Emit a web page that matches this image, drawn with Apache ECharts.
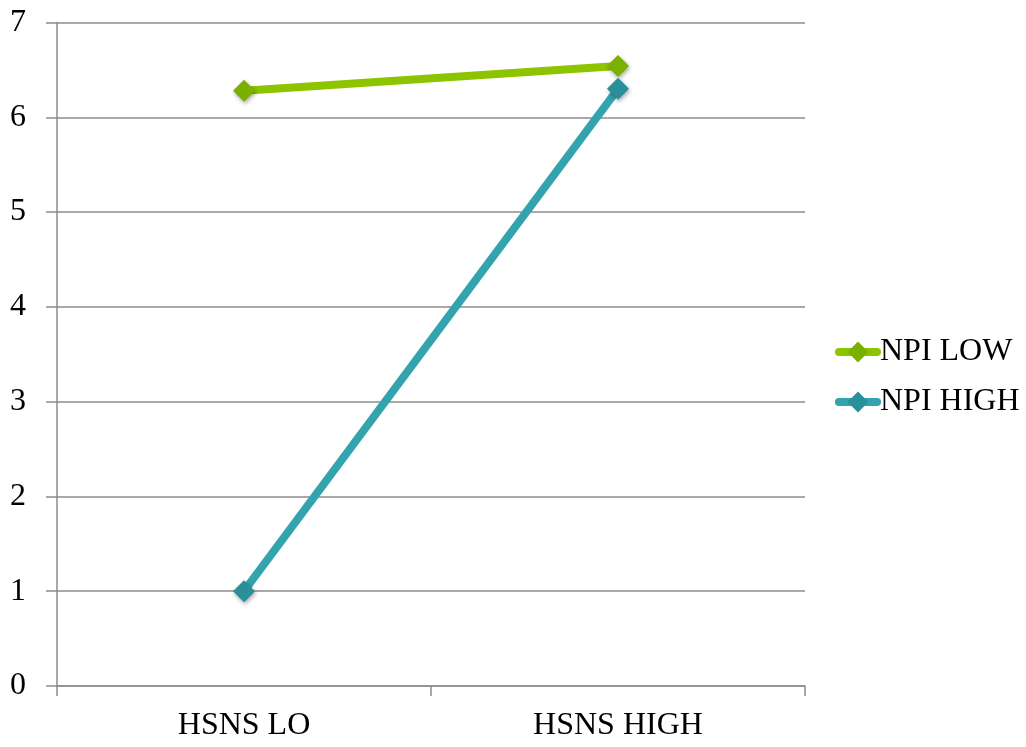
<!DOCTYPE html>
<html><head><meta charset="utf-8">
<script src="https://cdn.jsdelivr.net/npm/echarts@6/dist/echarts.min.js"></script>
<style>html,body{margin:0;padding:0;background:#fff}#c{width:1026px;height:747px}</style>
</head><body><div id="c"></div>
<script>
const categories = ['HSNS LO', 'HSNS HIGH'];
const npiLow = [6.28, 6.54];
const npiHigh = [1.0, 6.30];
const seriesNames = ['NPI LOW', 'NPI HIGH'];
const yTicks = [0, 1, 2, 3, 4, 5, 6, 7];

const font = 'Liberation Serif';
const chart = echarts.init(document.getElementById('c'), null, {renderer: 'canvas'});
chart.setOption({
  animation: false,
  backgroundColor: '#fff',
  grid: {left: 57, right: 221, top: 22.5, bottom: 61},
  legend: {
    orient: 'vertical', left: 830, top: 331, itemGap: 18,
    itemWidth: 38, itemHeight: 26,
    lineStyle: {width: 8, cap: 'round'},
    textStyle: {fontFamily: font, fontSize: 32, color: '#000', padding: [0, 0, 0, -2]},
    data: seriesNames
  },
  xAxis: {
    type: 'category', data: categories, boundaryGap: true,
    axisLine: {lineStyle: {color: '#8c8c8c', width: 1.5}},
    axisTick: {show: true, length: 10, lineStyle: {color: '#8c8c8c', width: 1.5}},
    axisLabel: {fontFamily: font, fontSize: 32, color: '#000', margin: 24}
  },
  yAxis: {
    type: 'value', min: yTicks[0], max: yTicks[yTicks.length - 1], interval: 1,
    axisLine: {show: true, lineStyle: {color: '#8c8c8c', width: 1.5}},
    axisTick: {show: true, length: 11, lineStyle: {color: '#8c8c8c', width: 1.5}},
    splitLine: {lineStyle: {color: '#8c8c8c', width: 1.5}},
    axisLabel: {fontFamily: font, fontSize: 32, color: '#000', margin: 31}
  },
  series: [
    {name: seriesNames[0], type: 'line', data: npiLow, symbol: 'diamond', symbolSize: 22,
     color: '#8cc400',
     lineStyle: {width: 8, color: '#8cc400'},
     itemStyle: {color: '#7ab000', shadowColor: 'rgba(0,0,0,0.35)', shadowBlur: 4, shadowOffsetX: 1, shadowOffsetY: 2}},
    {name: seriesNames[1], type: 'line', data: npiHigh, symbol: 'diamond', symbolSize: 22,
     color: '#33a3ae',
     lineStyle: {width: 8, color: '#33a3ae'},
     itemStyle: {color: '#2a8f9a', shadowColor: 'rgba(0,0,0,0.35)', shadowBlur: 4, shadowOffsetX: 1, shadowOffsetY: 2}}
  ]
});
</script></body></html>
